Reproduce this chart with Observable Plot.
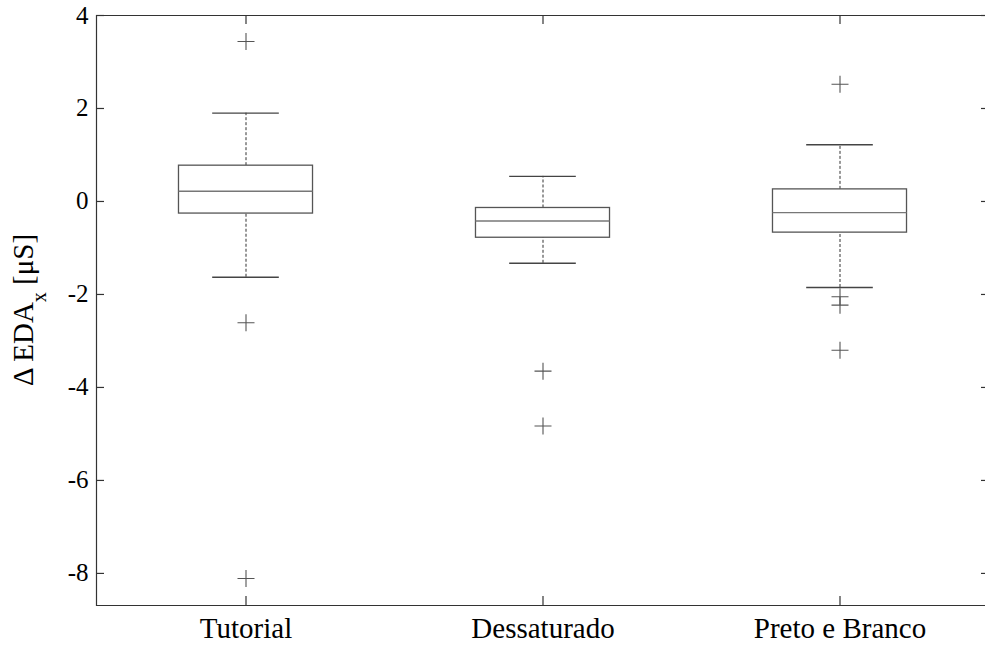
<!DOCTYPE html>
<html>
<head>
<meta charset="utf-8">
<script src="https://cdn.jsdelivr.net/npm/d3@7"></script>
<script src="https://cdn.jsdelivr.net/npm/@observablehq/plot@0.6"></script>
<style>
  html, body { margin: 0; padding: 0; background: #fff; overflow: hidden; }
  #chart { width: 985px; height: 650px; overflow: hidden; }
  #chart svg { display: block; max-width: none !important; }
</style>
</head>
<body>
<div id="chart"></div>
<script>
const categories = ["Tutorial", "Dessaturado", "Preto e Branco"];
const q1 = [-0.26, -0.78, -0.67];
const median = [0.22, -0.42, -0.24];
const q3 = [0.77, -0.14, 0.26];
const whiskerLow = [-1.63, -1.33, -1.85];
const whiskerHigh = [1.90, 0.54, 1.22];
const outlierGroup = ["Tutorial", "Tutorial", "Tutorial", "Dessaturado", "Dessaturado", "Preto e Branco", "Preto e Branco", "Preto e Branco", "Preto e Branco"];
const outlierValue = [3.44, -2.61, -8.11, -3.65, -4.83, 2.52, -2.05, -2.23, -3.20];
const yTicks = [-8, -6, -4, -2, 0, 2, 4];
const yDomain = [-8.69, 4];

const boxes = categories.map((c, i) => ({
  cat: c, q1: q1[i], med: median[i], q3: q3[i], lo: whiskerLow[i], hi: whiskerHigh[i]
}));
const outliers = outlierGroup.map((g, i) => ({cat: g, value: outlierValue[i]}));

const W = 989, H = 650, mT = 15, mB = 45, mL = 96, mR = 0;
const innerH = H - mT - mB;
const innerW = W - mL - mR;
const band = innerW / categories.length;
const boxInset = (band - 134.7) / 2;
const capInset = (band - 67.3) / 2;
const tickLen = 8;
const serif = "'Liberation Serif', 'Times New Roman', serif";

const plusSymbol = {
  draw(ctx, size) {
    const r = Math.sqrt(size / Math.PI);
    ctx.moveTo(-r, 0); ctx.lineTo(r, 0);
    ctx.moveTo(0, -r); ctx.lineTo(0, r);
  }
};

const chart = Plot.plot({
  width: W, height: H,
  marginTop: mT, marginBottom: mB, marginLeft: mL, marginRight: mR,
  style: {fontFamily: serif, background: "#fff", color: "#000", maxWidth: "none"},
  x: {type: "band", domain: categories, padding: 0, label: null},
  y: {domain: yDomain, label: null},
  marks: [
    // axes box: left, top, bottom (right edge falls outside the picture)
    Plot.frame({anchor: "left", stroke: "#333", strokeWidth: 1.2}),
    Plot.ruleY(yDomain, {y: d => d, stroke: "#333", strokeWidth: 1.2}),
    // inward ticks
    Plot.ruleY(yTicks, {y: d => d, insetRight: innerW - tickLen, stroke: "#333", strokeWidth: 1.2}),
    Plot.ruleY(yTicks, {y: d => d, insetLeft: innerW - tickLen, stroke: "#333", strokeWidth: 1.2}),
    Plot.ruleX(categories, {x: d => d, insetBottom: innerH - 9, stroke: "#333", strokeWidth: 1.2}),
    Plot.ruleX(categories, {x: d => d, insetTop: innerH - 9, stroke: "#333", strokeWidth: 1.2}),
    // whiskers
    Plot.ruleX(boxes, {x: "cat", y1: "q3", y2: "hi", stroke: "#333", strokeDasharray: "3,2", strokeWidth: 1}),
    Plot.ruleX(boxes, {x: "cat", y1: "lo", y2: "q1", stroke: "#333", strokeDasharray: "3,2", strokeWidth: 1}),
    Plot.tickY(boxes, {x: "cat", y: "hi", insetLeft: capInset, insetRight: capInset, stroke: "#444", strokeWidth: 1.4}),
    Plot.tickY(boxes, {x: "cat", y: "lo", insetLeft: capInset, insetRight: capInset, stroke: "#444", strokeWidth: 1.4}),
    // boxes
    Plot.barY(boxes, {x: "cat", y1: "q1", y2: "q3", insetLeft: boxInset, insetRight: boxInset, fill: "#fff", stroke: "#555", strokeWidth: 1.3}),
    Plot.tickY(boxes, {x: "cat", y: "med", insetLeft: boxInset, insetRight: boxInset, stroke: "#777", strokeWidth: 1.3}),
    // outliers
    Plot.dot(outliers, {x: "cat", y: "value", symbol: plusSymbol, r: 8.5, fill: "none", stroke: "#555", strokeWidth: 1.1}),
    // axes labels
    Plot.axisY(yTicks, {tickSize: 0, tickPadding: 8, fontSize: 25, label: null, fill: "#000", tickFormat: d => String(d)}),
    Plot.axisX({tickSize: 0, tickPadding: 12, fontSize: 29, label: null, fill: "#000"})
  ]
});

document.getElementById("chart").appendChild(chart);

// Y axis title with subscript
const svg = d3.select(chart);
const t = svg.append("text")
  .attr("transform", `translate(33,${mT + innerH / 2}) rotate(-90)`)
  .attr("text-anchor", "middle")
  .attr("font-family", serif)
  .attr("font-size", 29)
  .attr("fill", "#000");
t.append("tspan").text("\u0394 EDA");
t.append("tspan").attr("font-size", 20).attr("dy", 13).text("x");
t.append("tspan").attr("dy", -13).text(" [\u03BCS]");
</script>
</body>
</html>
